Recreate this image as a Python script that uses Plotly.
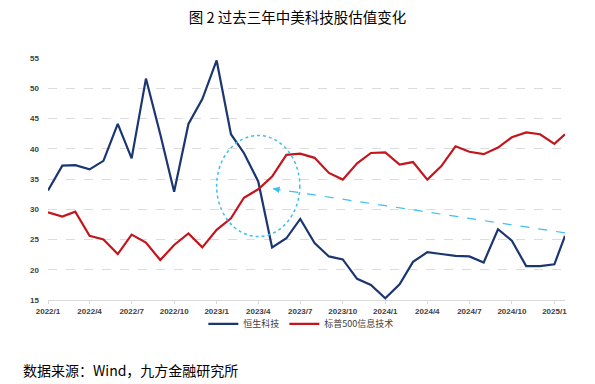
import plotly.graph_objects as go

dates = [
    "2022-01-01", "2022-02-01", "2022-03-01", "2022-04-01", "2022-05-01", "2022-06-01",
    "2022-07-01", "2022-08-01", "2022-09-01", "2022-10-01", "2022-11-01", "2022-12-01",
    "2023-01-01", "2023-02-01", "2023-03-01", "2023-04-01", "2023-05-01", "2023-06-01",
    "2023-07-01", "2023-08-01", "2023-09-01", "2023-10-01", "2023-11-01", "2023-12-01",
    "2024-01-01", "2024-02-01", "2024-03-01", "2024-04-01", "2024-05-01", "2024-06-01",
    "2024-07-01", "2024-08-01", "2024-09-01", "2024-10-01", "2024-11-01", "2024-12-01",
    "2025-01-01", "2025-01-24",
]

hstech = [
    33.1, 37.2, 37.3, 36.6, 38.0, 44.1, 38.4, 51.6, 42.4, 32.9, 44.1, 48.2,
    54.6, 42.4, 39.3, 34.6, 23.7, 25.2, 28.4, 24.4, 22.2, 21.7, 18.5, 17.5,
    15.3, 17.6, 21.3, 22.9, 22.6, 22.3, 22.2, 21.2, 26.7, 24.8, 20.6, 20.6,
    20.9, 25.6,
]

sp500it = [
    29.5, 28.8, 29.6, 25.6, 25.0, 22.6, 25.8, 24.5, 21.6, 24.1, 26.0, 23.7,
    26.6, 28.5, 31.9, 33.3, 35.4, 39.0, 39.2, 38.5, 36.0, 34.9, 37.6, 39.3,
    39.4, 37.4, 37.8, 34.9, 37.1, 40.4, 39.5, 39.1, 40.2, 41.9, 42.7, 42.4,
    40.8, 42.4,
]

series_names = ["恒生科技", "标普500信息技术"]
title_text = "图 2 过去三年中美科技股估值变化"
source_text = "数据来源：Wind，九方金融研究所"

y_ticks = [15, 20, 25, 30, 35, 40, 45, 50, 55]

# highlight ellipse and arrow (data space)
ellipse_x = ["2023-01-01", "2023-06-30"]
ellipse_y = [25.5, 42.2]
arrow_tail = ("2025-01-24", 26.1)
arrow_head = ("2023-05-03", 33.4)

NAVY = "#1b3670"
RED = "#c3161c"
CYAN = "#3dbff2"

fig = go.Figure()
fig.add_trace(go.Scatter(x=dates, y=hstech, mode="lines", name=series_names[0],
                         line=dict(color=NAVY, width=2.2)))
fig.add_trace(go.Scatter(x=dates, y=sp500it, mode="lines", name=series_names[1],
                         line=dict(color=RED, width=2.2)))

fig.add_shape(type="circle", xref="x", yref="y",
              x0=ellipse_x[0], x1=ellipse_x[1], y0=ellipse_y[0], y1=ellipse_y[1],
              line=dict(color=CYAN, width=1.5, dash="dot"), layer="above")
fig.add_shape(type="line", xref="x", yref="y",
              x0=arrow_tail[0], y0=arrow_tail[1], x1=arrow_head[0], y1=arrow_head[1],
              line=dict(color=CYAN, width=1.2, dash="dash"), layer="above")
fig.add_annotation(x=arrow_head[0], y=arrow_head[1], xref="x", yref="y",
                   ax=9, ay=1.4, axref="pixel", ayref="pixel", text="",
                   showarrow=True, arrowhead=2, arrowsize=1, arrowwidth=1.3,
                   arrowcolor=CYAN)

fig.add_annotation(text=source_text, xref="paper", yref="paper",
                   x=-0.052, y=-0.289, xanchor="left", yanchor="middle",
                   showarrow=False,
                   font=dict(family="Noto Sans CJK SC", size=14, color="#000000"))

fig.update_layout(
    width=595, height=384,
    margin=dict(l=48, r=30, t=58, b=84),
    paper_bgcolor="white", plot_bgcolor="white",
    title=dict(text=title_text, x=0.5, xanchor="center", y=1 - 18 / 384, yanchor="middle",
               font=dict(family="Noto Sans CJK SC", size=14.5, color="#000000")),
    showlegend=True,
    legend=dict(orientation="h", x=0.49, xanchor="center", y=-0.099, yanchor="middle",
                font=dict(family="Noto Sans CJK SC", size=9, color="#404040"),
                itemwidth=30, bgcolor="rgba(0,0,0,0)"),
    xaxis=dict(type="date", range=[dates[0], dates[-1]],
               tick0=dates[0], dtick="M3", tickformat="%Y/%-m",
               showgrid=False, showline=True, linecolor="#d9d9d9", linewidth=1,
               ticks="outside", ticklen=3, tickcolor="#d9d9d9",
               tickfont=dict(family="Liberation Sans", size=8, color="#404040", weight="bold"),
               zeroline=False),
    yaxis=dict(range=[15, 55], tickvals=y_ticks, showgrid=True, gridcolor="#dcdcdc",
               griddash="dash", gridwidth=1, zeroline=False, showline=False,
               ticks="", ticklabelstandoff=8,
               tickfont=dict(family="Liberation Sans", size=8, color="#404040", weight="bold")),
)

fig.write_html("out.html", config={"displayModeBar": False},
               post_script="document.body.style.margin='0';document.body.style.padding='0';")
